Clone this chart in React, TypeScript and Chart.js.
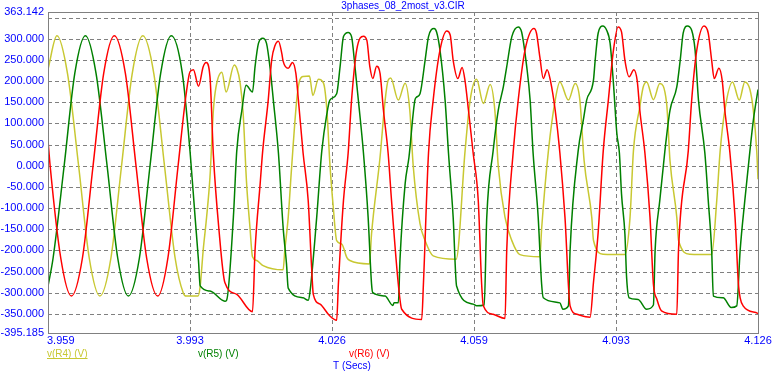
import React, { useEffect, useRef } from 'react';
import { Chart, registerables } from 'chart.js';

Chart.register(...registerables);

const TITLE = '3phases_08_2most_v3.CIR';
const X_TITLE = 'T (Secs)';
const X_MIN = 3.9592;
const X_MAX = 4.1262;
const X_TICKS = [3.9592, 3.9926, 4.026, 4.0594, 4.0928, 4.1262];
const X_LABELS = ['3.959', '3.993', '4.026', '4.059', '4.093', '4.126'];
const Y_MIN = -395.185;
const Y_MAX = 363.142;
const Y_TICKS = [363.142, 350, 300, 250, 200, 150, 100, 50, 0, -50, -100, -150, -200, -250, -300, -350, -395.185];
const Y_LABELS = ['363.142', '', '300.000', '250.000', '200.000', '150.000', '100.000', '50.000', '0.000', '-50.000', '-100.000', '-150.000', '-200.000', '-250.000', '-300.000', '-350.000', '-395.185'];

const SERIES_NAMES = ['v(R4) (V)', 'v(R5) (V)', 'v(R6) (V)'];
const SERIES_COLORS = ['#C8C832', '#008000', '#FF0000'];

// v(R4) (V)
const R4_T = [3.9592, 3.9613, 3.9638, 3.9664, 3.9689, 3.9714, 3.974, 3.9765, 3.979, 3.9815, 3.9841, 3.9866, 3.9891, 3.991, 3.9917, 3.9945, 3.995, 3.9957, 3.9965, 3.9973, 3.9981, 3.9987, 4.0001, 4.0011, 4.003, 4.0036, 4.0044, 4.0051, 4.0059, 4.0067, 4.0073, 4.0083, 4.0098, 4.0145, 4.0149, 4.0157, 4.0165, 4.0177, 4.0183, 4.0192, 4.0207, 4.0215, 4.0228, 4.024, 4.0248, 4.0255, 4.0263, 4.0271, 4.0283, 4.0295, 4.0302, 4.0348, 4.0353, 4.0373, 4.0385, 4.0392, 4.0398, 4.0416, 4.0432, 4.0443, 4.0451, 4.0467, 4.0479, 4.0498, 4.0552, 4.0573, 4.0585, 4.06, 4.0616, 4.0632, 4.0643, 4.0651, 4.0667, 4.0683, 4.0702, 4.0749, 4.0753, 4.0769, 4.0785, 4.0796, 4.0816, 4.0832, 4.0843, 4.0853, 4.0871, 4.0875, 4.0898, 4.0949, 4.0961, 4.0969, 4.0984, 4.0992, 4.1, 4.1016, 4.1031, 4.1047, 4.1055, 4.1071, 4.1075, 4.1102, 4.1153, 4.1165, 4.1173, 4.1184, 4.1202, 4.1218, 4.1231, 4.1243, 4.1251, 4.1259, 4.1262];
const R4_V = [228, 307, 217, 0, -218, -308, -218, 0, 217, 307, 217, 0, -218, -300, -308, -308, -284, -200, -122, -27, 131, 185, 221, 174, 238, 230, 195, 124, -40, -145, -215, -224, -236, -246, -200, -122, -4, 155, 198, 211, 212, 166, 204, 195, 131, 5, -98, -177, -185, -217, -224, -232, -161, 20, 155, 202, 207, 155, 195, 131, 0, -137, -177, -213, -221, 35, 155, 204, 147, 192, 131, 0, -122, -177, -210, -215, -150, 35, 155, 198, 155, 194, 155, 12, -122, -176, -209, -210, -122, 35, 139, 186, 198, 156, 194, 148, 12, -122, -176, -209, -210, -82, 35, 131, 198, 155, 198, 180, 131, 35, -32];

// v(R5) (V)
const R5_T = [3.9592, 3.9604, 3.963, 3.9655, 3.968, 3.9705, 3.9731, 3.9756, 3.9781, 3.9807, 3.9832, 3.9857, 3.9882, 3.9908, 3.9926, 3.9938, 3.9946, 3.995, 3.9973, 4.0008, 4.0012, 4.0028, 4.0036, 4.0048, 4.0058, 4.0073, 4.0079, 4.0087, 4.0097, 4.0106, 4.0114, 4.0122, 4.0134, 4.0145, 4.0153, 4.0157, 4.0192, 4.0204, 4.0208, 4.0224, 4.0236, 4.0248, 4.0255, 4.0271, 4.0279, 4.0287, 4.0298, 4.0306, 4.0314, 4.0322, 4.0334, 4.0345, 4.0353, 4.0356, 4.0385, 4.0403, 4.0406, 4.0416, 4.042, 4.0432, 4.0441, 4.0455, 4.0459, 4.0467, 4.0479, 4.0487, 4.05, 4.0506, 4.0514, 4.0526, 4.0534, 4.0545, 4.0553, 4.0592, 4.06, 4.0618, 4.0624, 4.0639, 4.0651, 4.0663, 4.0671, 4.0683, 4.0698, 4.0706, 4.0718, 4.0726, 4.0733, 4.0745, 4.0753, 4.0757, 4.0796, 4.0803, 4.0816, 4.082, 4.0839, 4.0851, 4.0859, 4.0875, 4.0879, 4.0886, 4.0897, 4.0906, 4.0914, 4.0922, 4.093, 4.0936, 4.0941, 4.0949, 4.0953, 4.0959, 4.098, 4.1, 4.1016, 4.102, 4.1031, 4.1043, 4.1055, 4.1071, 4.1079, 4.1086, 4.1096, 4.1106, 4.1114, 4.1122, 4.1137, 4.1145, 4.1153, 4.1157, 4.118, 4.1199, 4.1212, 4.122, 4.1231, 4.1243, 4.1251, 4.1262];
const R5_V = [-285, -218, 0, 218, 307, 218, 0, -218, -308, -218, 0, 218, 307, 218, 35, -122, -225, -284, -296, -320, -318, -122, 35, 131, 190, 174, 234, 289, 301, 289, 234, 155, 30, -145, -232, -289, -312, -318, -300, -122, 35, 123, 155, 170, 234, 305, 315, 305, 234, 155, 30, -122, -279, -300, -308, -330, -324, -324, -220, -43, 20, 155, 162, 170, 249, 305, 324, 316, 273, 155, 30, -122, -284, -327, -331, -329, -122, 35, 131, 186, 234, 305, 328, 316, 234, 155, 30, -122, -279, -312, -324, -339, -331, -200, 35, 107, 155, 202, 249, 313, 330, 320, 290, 194, 76, 30, -67, -162, -265, -312, -316, -339, -329, -200, -82, 35, 131, 186, 249, 313, 330, 320, 273, 155, 30, -82, -200, -308, -312, -335, -331, -200, -82, 35, 107, 180];

// v(R6) (V)
const R6_T = [3.9592, 3.9597, 3.9622, 3.9647, 3.9673, 3.9698, 3.9723, 3.9748, 3.9774, 3.9799, 3.9824, 3.985, 3.9874, 3.9898, 3.9917, 3.9926, 3.9934, 3.9946, 3.9957, 3.9964, 3.9973, 3.9981, 3.9994, 4.0008, 4.0036, 4.0073, 4.0079, 4.0091, 4.0097, 4.011, 4.0118, 4.0126, 4.0134, 4.0142, 4.0145, 4.0157, 4.0167, 4.0175, 4.0181, 4.0192, 4.0204, 4.0212, 4.0216, 4.0232, 4.0254, 4.0271, 4.0275, 4.0287, 4.0298, 4.0306, 4.0318, 4.0334, 4.0342, 4.0349, 4.0356, 4.0365, 4.0373, 4.0381, 4.0392, 4.04, 4.0416, 4.0424, 4.0471, 4.0475, 4.0487, 4.0498, 4.0514, 4.053, 4.0538, 4.0545, 4.0556, 4.0566, 4.0573, 4.0581, 4.0592, 4.0604, 4.0612, 4.0616, 4.0639, 4.0667, 4.0671, 4.0686, 4.0698, 4.0714, 4.0735, 4.0741, 4.0749, 4.0757, 4.0766, 4.0774, 4.0785, 4.0796, 4.0808, 4.082, 4.0836, 4.0867, 4.0875, 4.0886, 4.0898, 4.091, 4.0922, 4.0933, 4.0941, 4.0949, 4.0959, 4.097, 4.0978, 4.0984, 4.0996, 4.1008, 4.1016, 4.1024, 4.1035, 4.1071, 4.1075, 4.1098, 4.1106, 4.1118, 4.1135, 4.1145, 4.1153, 4.1159, 4.117, 4.1178, 4.1184, 4.1196, 4.1208, 4.1216, 4.122, 4.1227, 4.1262];
const R6_V = [60, 0, -218, -308, -218, 0, 218, 307, 218, 0, -218, -308, -218, 0, 170, 222, 227, 188, 234, 244, 210, 25, -150, -276, -304, -345, -200, -43, 35, 155, 249, 284, 294, 265, 247, 230, 244, 218, 155, 30, -82, -240, -304, -327, -354, -365, -280, -82, 30, 155, 273, 306, 296, 234, 206, 235, 218, 131, 30, -82, -280, -339, -363, -280, 30, 155, 273, 318, 309, 249, 206, 232, 200, 131, 30, -82, -280, -331, -351, -361, -200, 30, 155, 273, 324, 313, 256, 206, 227, 200, 131, 30, -122, -331, -351, -358, -276, -158, 35, 155, 273, 328, 316, 249, 210, 227, 200, 131, 30, -122, -280, -315, -343, -351, -200, 35, 155, 273, 330, 313, 249, 206, 230, 200, 131, 30, -122, -280, -312, -331, -349];

const BLUE = '#0000FF';
const GRID = '#808080';
const FONT = 'Arial, "Liberation Sans", sans-serif';

const toPoints = (ts: number[], vs: number[]) => ts.map((t, i) => ({ x: t, y: vs[i] }));

const overlayPlugin = {
  id: 'overlay',
  beforeDatasetsDraw(chart: any) {
    const { ctx, chartArea: a, scales } = chart;
    const xs = scales.x;
    const ys = scales.y;
    ctx.save();
    ctx.strokeStyle = GRID;
    ctx.lineWidth = 1;
    ctx.setLineDash([4, 3]);
    Y_TICKS.forEach((v) => {
      if (v === Y_MIN || v === Y_MAX) return;
      const py = Math.round(ys.getPixelForValue(v)) + 0.5;
      ctx.beginPath();
      ctx.moveTo(a.left, py);
      ctx.lineTo(a.right, py);
      ctx.stroke();
    });
    X_TICKS.forEach((v, i) => {
      if (i === 0 || i === X_TICKS.length - 1) return;
      const px = Math.round(xs.getPixelForValue(v)) + 0.5;
      ctx.beginPath();
      ctx.moveTo(px, a.top);
      ctx.lineTo(px, a.bottom);
      ctx.stroke();
    });
    ctx.restore();
  },
  afterDatasetsDraw(chart: any) {
    const { ctx, chartArea: a } = chart;
    ctx.save();
    ctx.strokeStyle = GRID;
    ctx.lineWidth = 1;
    ctx.setLineDash([]);
    ctx.strokeRect(Math.round(a.left) + 0.5, Math.round(a.top) + 0.5, Math.round(a.right - a.left), Math.round(a.bottom - a.top));
    ctx.restore();
  },
  afterDraw(chart: any) {
    const { ctx, chartArea: a, scales } = chart;
    const xs = scales.x;
    const ys = scales.y;
    ctx.save();
    ctx.fillStyle = BLUE;
    ctx.textBaseline = 'middle';
    // title
    ctx.font = `10px ${FONT}`;
    ctx.textAlign = 'center';
    ctx.fillText(TITLE, (a.left + a.right) / 2, 6);
    // y labels
    ctx.font = `11px ${FONT}`;
    ctx.textAlign = 'right';
    Y_TICKS.forEach((v, i) => {
      const lbl = Y_LABELS[i];
      if (!lbl) return;
      ctx.fillText(lbl, a.left - 4, ys.getPixelForValue(v));
    });
    // x labels
    X_TICKS.forEach((v, i) => {
      ctx.textAlign = i === 0 ? 'left' : 'center';
      const px = i === 0 ? a.left - 1 : xs.getPixelForValue(v);
      ctx.fillText(X_LABELS[i], px, a.bottom + 8);
    });
    // legend
    ctx.font = `10px ${FONT}`;
    ctx.textAlign = 'left';
    SERIES_NAMES.forEach((name, i) => {
      const lx = a.left - 1 + i * 151;
      ctx.fillStyle = SERIES_COLORS[i];
      ctx.fillText(name, lx, a.bottom + 21);
      if (i === 0) {
        const w = ctx.measureText(name).width;
        ctx.fillRect(lx, a.bottom + 25, w, 1);
      }
    });
    // axis title
    ctx.fillStyle = BLUE;
    ctx.fillText(X_TITLE, a.left + 285, a.bottom + 33);
    ctx.restore();
  },
};

export default function App() {
  const ref = useRef<HTMLCanvasElement | null>(null);
  useEffect(() => {
    if (!ref.current) return;
    const mk = (i: number, ts: number[], vs: number[], order: number) => ({
      label: SERIES_NAMES[i],
      data: toPoints(ts, vs),
      borderColor: SERIES_COLORS[i],
      backgroundColor: SERIES_COLORS[i],
      borderWidth: 1.5,
      pointRadius: 0,
      fill: false,
      cubicInterpolationMode: 'monotone' as const,
      order,
    });
    const chart = new Chart(ref.current, {
      type: 'line',
      data: {
        datasets: [
          mk(0, R4_T, R4_V, 3),
          mk(1, R5_T, R5_V, 2),
          mk(2, R6_T, R6_V, 1),
        ],
      },
      options: {
        animation: false,
        responsive: false,
        devicePixelRatio: 1,
        layout: { padding: { left: 48, top: 12, right: 19, bottom: 44 } },
        plugins: { legend: { display: false }, tooltip: { enabled: false }, title: { display: false } },
        scales: {
          x: { type: 'linear', min: X_MIN, max: X_MAX, display: false },
          y: { type: 'linear', min: Y_MIN, max: Y_MAX, display: false },
        },
      },
      plugins: [overlayPlugin],
    });
    return () => chart.destroy();
  }, []);
  return (
    <div style={{ position: 'absolute', left: 0, top: 0, width: 777, height: 377, background: '#fff' }}>
      <canvas ref={ref} width={777} height={377} style={{ display: 'block', width: 777, height: 377 }} />
    </div>
  );
}
